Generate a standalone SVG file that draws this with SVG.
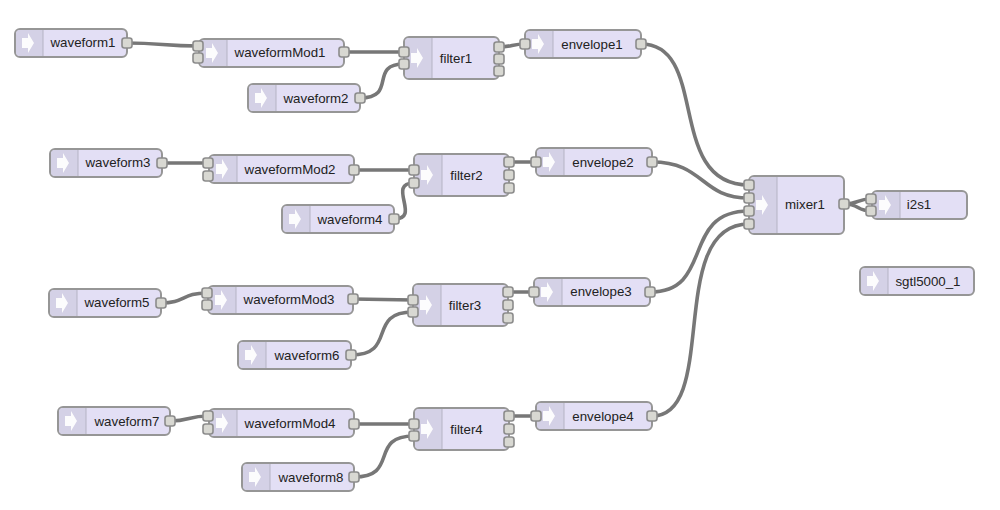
<svg xmlns="http://www.w3.org/2000/svg" width="1000" height="510" viewBox="0 0 1000 510">
<style>
.b{fill:#e3dff5;stroke:#969696;stroke-width:2}
.i{fill:#d4d1e6}
.d{stroke:#b5b3c4;stroke-width:1;fill:none}
.a{fill:#fff;opacity:.92}
.p{fill:#d8d8d2;stroke:#8c8c8c;stroke-width:1.6}
.t{font-family:"Liberation Sans",Arial,sans-serif;font-size:13.3px;fill:#222;text-anchor:middle}
#connectors path{fill:none;stroke:#777;stroke-width:3.6;stroke-linecap:round}
</style>
<defs>
<rect id="port" class="p" x="-5" y="-5" width="10" height="10" rx="2.5"/>
<path id="arrow" class="a" d="M-6-5H0V-10L6 0 0 10V5H-6Z"/>
</defs>
<rect width="1000" height="510" fill="#fff"/>
<g id="connectors">
<path d="M127 43C160 43 165 46 198 46"/>
<path d="M344 52H404"/>
<path d="M360 98C398 98 368 64 404 64"/>
<path d="M499 47C512 47 512 44 525 44"/>
<path d="M641 44C710 44 665 185 749 185"/>
<path d="M162 163H208"/>
<path d="M354 170H414"/>
<path d="M394 219C422 219 386 183 414 183"/>
<path d="M509 162C522 162 522 162 536 162"/>
<path d="M652 162C705 162 700 198 749 198"/>
<path d="M161 303C185 303 182 293 207 293"/>
<path d="M353 299L413 300"/>
<path d="M351 355C398 355 366 312 413 312"/>
<path d="M508 292H534"/>
<path d="M650 292C715 292 680 211 749 211"/>
<path d="M170 421C190 421 188 416 208 416"/>
<path d="M354 424H414"/>
<path d="M354 477C400 477 368 436 414 436"/>
<path d="M509 416C522 416 522 416 536 416"/>
<path d="M652 416C720 416 665 224 749 224"/>
<path d="M844 204C860 204 856 199 871 199"/>
<path d="M844 204C860 204 856 211 871 211"/>
</g>
<g id="waveform1"><rect class="b" x="15" y="29" width="112" height="28" rx="5"/><path class="i" d="M20 30H43V56H20Q16 56 16 52V34Q16 30 20 30Z"/><path class="d" d="M43 30V56"/><use href="#arrow" x="28" y="43"/><text class="t" x="83" y="47">waveform1</text><use href="#port" x="127" y="43"/></g>
<g id="waveformMod1"><rect class="b" x="199" y="39" width="145" height="28" rx="5"/><path class="i" d="M204 40H227V66H204Q200 66 200 62V44Q200 40 204 40Z"/><path class="d" d="M227 40V66"/><use href="#arrow" x="212" y="53"/><text class="t" x="280" y="57">waveformMod1</text><use href="#port" x="198" y="46"/><use href="#port" x="198" y="58"/><use href="#port" x="344" y="52"/></g>
<g id="filter1"><rect class="b" x="404" y="37" width="95" height="42" rx="5"/><path class="i" d="M409 38H432V78H409Q405 78 405 74V42Q405 38 409 38Z"/><path class="d" d="M432 38V78"/><use href="#arrow" x="417" y="58"/><text class="t" x="456" y="63">filter1</text><use href="#port" x="404" y="52"/><use href="#port" x="404" y="64"/><use href="#port" x="499" y="47"/><use href="#port" x="499" y="59"/><use href="#port" x="499" y="71"/></g>
<g id="envelope1"><rect class="b" x="525" y="30" width="116" height="28" rx="5"/><path class="i" d="M530 31H553V57H530Q526 57 526 53V35Q526 31 530 31Z"/><path class="d" d="M553 31V57"/><use href="#arrow" x="538" y="44"/><text class="t" x="592" y="49">envelope1</text><use href="#port" x="525" y="44"/><use href="#port" x="641" y="44"/></g>
<g id="waveform2"><rect class="b" x="248" y="84" width="112" height="28" rx="5"/><path class="i" d="M253 85H276V111H253Q249 111 249 107V89Q249 85 253 85Z"/><path class="d" d="M276 85V111"/><use href="#arrow" x="261" y="98"/><text class="t" x="316" y="103">waveform2</text><use href="#port" x="360" y="98"/></g>

<g id="waveform3"><rect class="b" x="50" y="149" width="112" height="28" rx="5"/><path class="i" d="M55 150H78V176H55Q51 176 51 172V154Q51 150 55 150Z"/><path class="d" d="M78 150V176"/><use href="#arrow" x="63" y="163"/><text class="t" x="118" y="167">waveform3</text><use href="#port" x="162" y="163"/></g>
<g id="waveformMod2"><rect class="b" x="209" y="155" width="145" height="28" rx="5"/><path class="i" d="M214 156H237V182H214Q210 182 210 178V160Q210 156 214 156Z"/><path class="d" d="M237 156V182"/><use href="#arrow" x="222" y="169"/><text class="t" x="290" y="174">waveformMod2</text><use href="#port" x="208" y="163"/><use href="#port" x="208" y="176"/><use href="#port" x="354" y="170"/></g>
<g id="filter2"><rect class="b" x="414" y="154" width="95" height="42" rx="5"/><path class="i" d="M419 155H442V195H419Q415 195 415 191V159Q415 155 419 155Z"/><path class="d" d="M442 155V195"/><use href="#arrow" x="427" y="175"/><text class="t" x="466.500" y="180">filter2</text><use href="#port" x="414" y="170"/><use href="#port" x="414" y="183"/><use href="#port" x="509" y="162"/><use href="#port" x="509" y="175"/><use href="#port" x="509" y="188"/></g>
<g id="envelope2"><rect class="b" x="536" y="148" width="116" height="28" rx="5"/><path class="i" d="M541 149H564V175H541Q537 175 537 171V153Q537 149 541 149Z"/><path class="d" d="M564 149V175"/><use href="#arrow" x="549" y="162"/><text class="t" x="603" y="167">envelope2</text><use href="#port" x="536" y="162"/><use href="#port" x="652" y="162"/></g>
<g id="waveform4"><rect class="b" x="282" y="205" width="112" height="28" rx="5"/><path class="i" d="M287 206H310V232H287Q283 232 283 228V210Q283 206 287 206Z"/><path class="d" d="M310 206V232"/><use href="#arrow" x="295" y="219"/><text class="t" x="350" y="224">waveform4</text><use href="#port" x="394" y="219"/></g>

<g id="waveform5"><rect class="b" x="49" y="289" width="112" height="28" rx="5"/><path class="i" d="M54 290H77V316H54Q50 316 50 312V294Q50 290 54 290Z"/><path class="d" d="M77 290V316"/><use href="#arrow" x="62" y="303"/><text class="t" x="117" y="307">waveform5</text><use href="#port" x="161" y="303"/></g>
<g id="waveformMod3"><rect class="b" x="208" y="286" width="145" height="28" rx="5"/><path class="i" d="M213 287H236V313H213Q209 313 209 309V291Q209 287 213 287Z"/><path class="d" d="M236 287V313"/><use href="#arrow" x="221" y="300"/><text class="t" x="289" y="304">waveformMod3</text><use href="#port" x="207" y="293"/><use href="#port" x="207" y="305"/><use href="#port" x="353" y="299"/></g>
<g id="filter3"><rect class="b" x="413" y="284" width="95" height="42" rx="5"/><path class="i" d="M418 285H441V325H418Q414 325 414 321V289Q414 285 418 285Z"/><path class="d" d="M441 285V325"/><use href="#arrow" x="426" y="305"/><text class="t" x="465" y="310">filter3</text><use href="#port" x="413" y="300"/><use href="#port" x="413" y="312"/><use href="#port" x="508" y="292"/><use href="#port" x="508" y="305"/><use href="#port" x="508" y="318"/></g>
<g id="envelope3"><rect class="b" x="534" y="278" width="116" height="28" rx="5"/><path class="i" d="M539 279H562V305H539Q535 305 535 301V283Q535 279 539 279Z"/><path class="d" d="M562 279V305"/><use href="#arrow" x="547" y="292"/><text class="t" x="601" y="296">envelope3</text><use href="#port" x="534" y="292"/><use href="#port" x="650" y="292"/></g>
<g id="waveform6"><rect class="b" x="238" y="341" width="113" height="28" rx="5"/><path class="i" d="M243 342H266V368H243Q239 368 239 364V346Q239 342 243 342Z"/><path class="d" d="M266 342V368"/><use href="#arrow" x="251" y="355"/><text class="t" x="307" y="360">waveform6</text><use href="#port" x="351" y="355"/></g>

<g id="waveform7"><rect class="b" x="58" y="407" width="112" height="28" rx="5"/><path class="i" d="M63 408H86V434H63Q59 434 59 430V412Q59 408 63 408Z"/><path class="d" d="M86 408V434"/><use href="#arrow" x="71" y="421"/><text class="t" x="127" y="426">waveform7</text><use href="#port" x="170" y="421"/></g>
<g id="waveformMod4"><rect class="b" x="209" y="409" width="145" height="28" rx="5"/><path class="i" d="M214 410H237V436H214Q210 436 210 432V414Q210 410 214 410Z"/><path class="d" d="M237 410V436"/><use href="#arrow" x="222" y="423"/><text class="t" x="290" y="428">waveformMod4</text><use href="#port" x="208" y="416"/><use href="#port" x="208" y="429"/><use href="#port" x="354" y="424"/></g>
<g id="filter4"><rect class="b" x="414" y="408" width="95" height="42" rx="5"/><path class="i" d="M419 409H442V449H419Q415 449 415 445V413Q415 409 419 409Z"/><path class="d" d="M442 409V449"/><use href="#arrow" x="427" y="429"/><text class="t" x="466.500" y="434">filter4</text><use href="#port" x="414" y="424"/><use href="#port" x="414" y="436"/><use href="#port" x="509" y="416"/><use href="#port" x="509" y="429"/><use href="#port" x="509" y="442"/></g>
<g id="envelope4"><rect class="b" x="536" y="402" width="116" height="28" rx="5"/><path class="i" d="M541 403H564V429H541Q537 429 537 425V407Q537 403 541 403Z"/><path class="d" d="M564 403V429"/><use href="#arrow" x="549" y="416"/><text class="t" x="603" y="421">envelope4</text><use href="#port" x="536" y="416"/><use href="#port" x="652" y="416"/></g>
<g id="waveform8"><rect class="b" x="242" y="463" width="112" height="28" rx="5"/><path class="i" d="M247 464H270V490H247Q243 490 243 486V468Q243 464 247 464Z"/><path class="d" d="M270 464V490"/><use href="#arrow" x="255" y="477"/><text class="t" x="311" y="482">waveform8</text><use href="#port" x="354" y="477"/></g>

<g id="mixer1"><rect class="b" x="749" y="176" width="95" height="58" rx="5"/><path class="i" d="M754 177H777V233H754Q750 233 750 229V181Q750 177 754 177Z"/><path class="d" d="M777 177V233"/><use href="#arrow" x="762" y="205"/><text class="t" x="805" y="209">mixer1</text><use href="#port" x="749" y="185"/><use href="#port" x="749" y="198"/><use href="#port" x="749" y="211"/><use href="#port" x="749" y="224"/><use href="#port" x="844" y="204"/></g>
<g id="i2s1"><rect class="b" x="872" y="191" width="95" height="28" rx="5"/><path class="i" d="M877 192H900V218H877Q873 218 873 214V196Q873 192 877 192Z"/><path class="d" d="M900 192V218"/><use href="#arrow" x="885" y="205"/><text class="t" x="919" y="209">i2s1</text><use href="#port" x="871" y="199"/><use href="#port" x="871" y="211"/></g>
<g id="sgtl5000_1"><rect class="b" x="860" y="267" width="114" height="28" rx="5"/><path class="i" d="M865 268H888V294H865Q861 294 861 290V272Q861 268 865 268Z"/><path class="d" d="M888 268V294"/><use href="#arrow" x="873" y="281"/><text class="t" x="928" y="286">sgtl5000_1</text></g>
</svg>
